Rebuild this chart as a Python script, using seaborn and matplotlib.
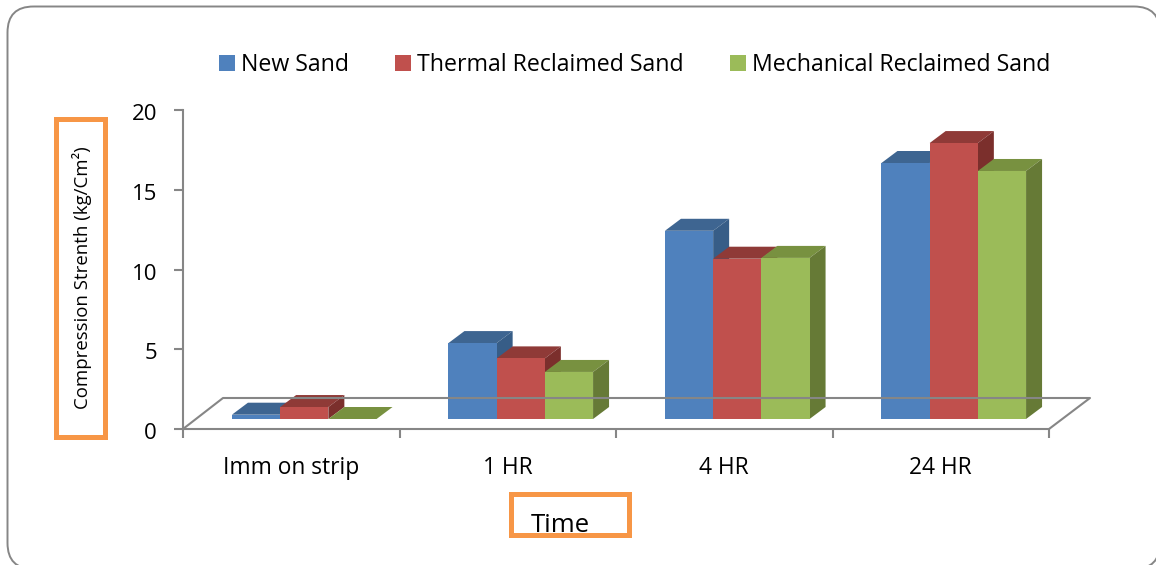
import matplotlib
matplotlib.use("Agg")
import matplotlib.pyplot as plt
import pandas as pd
import seaborn as sns
from matplotlib.patches import FancyBboxPatch, Polygon, Rectangle
from matplotlib.lines import Line2D
from matplotlib.transforms import Affine2D, IdentityTransform

categories = ["Imm on strip", "1 HR", "4 HR", "24 HR"]
new_sand = [0.27, 4.76, 11.8, 16.05]
thermal = [0.75, 3.8, 10.05, 17.3]
mechanical = [0.0, 2.95, 10.1, 15.55]
series_names = ["New Sand", "Thermal Reclaimed Sand", "Mechanical Reclaimed Sand"]
front_colors = ["#4F81BD", "#C0504D", "#9BBB59"]
top_colors = ["#3E6591", "#8F3A37", "#789140"]
side_colors = ["#375D87", "#7B2F2C", "#667A36"]

W, H = 1156, 565
GRAY = "#868686"
ORANGE = "#F79646"
FONT = ["Open Sans", "DejaVu Sans"]

sns.set_theme(style="white")
plt.rcParams["font.family"] = FONT

df = pd.DataFrame({
    "Time": categories * 3,
    "Series": sum([[n] * 4 for n in series_names], []),
    "Value": new_sand + thermal + mechanical,
})

fig = plt.figure(figsize=(W / 100, H / 100), dpi=100, facecolor="white")
ax = fig.add_axes([183 / W, 1 - 429 / H, 866 / W, 319 / H])
ax.patch.set_alpha(0)


def fx(x):
    return x / W


def fy(y):
    return 1 - y / H


sns.barplot(data=df, x="Time", y="Value", hue="Series", order=categories,
            hue_order=series_names, palette=front_colors, width=0.668, gap=0,
            saturation=1, ax=ax, errorbar=None, linewidth=0)
ax.set_xlim(-0.5, 3.5)
ax.set_ylim(0, 20)
ax.set_xlabel("")
ax.set_ylabel("")

# axes and ticks
for s in ["top", "right"]:
    ax.spines[s].set_visible(False)
for s in ["left", "bottom"]:
    ax.spines[s].set_color(GRAY)
    ax.spines[s].set_linewidth(1.5)
ax.set_yticks([0, 5, 10, 15, 20])
ax.tick_params(axis="y", length=6.5, width=1.5, color=GRAY, labelsize=16,
               labelcolor="black", pad=12.2, left=True)
ax.set_xticks([-0.5, 0.5, 1.5, 2.5, 3.5])
ax.set_xticklabels([])
ax.set_xticks(range(4), categories, minor=True)
ax.tick_params(axis="x", which="major", length=6.5, width=1.5, color=GRAY, bottom=True)
ax.tick_params(axis="x", which="minor", length=0, labelsize=16.4, labelcolor="black", pad=19.3)
for lab in ax.get_yticklabels():
    lab.set_transform(lab.get_transform() + Affine2D().translate(0, -2))

# floor outline
floor = [[(183, 429), (223, 398), (1090, 398), (1049, 429)]]
for pts in floor:
    fig.add_artist(Line2D([fx(p[0]) for p in pts], [fy(p[1]) for p in pts],
                          color=GRAY, lw=1.5, zorder=0.5))

# pseudo-3D faces computed from each bar
shift_x, shift_y = 13, 10
depth_x, depth_y = 16, 12
for i, container in enumerate(ax.containers):
    for bar in container:
        x0, x1 = bar.get_x(), bar.get_x() + bar.get_width()
        (px0, py0) = ax.transData.transform((x0, 0))
        (px1, py1) = ax.transData.transform((x1, bar.get_height()))
        px0 += shift_x
        px1 += shift_x
        py0 += shift_y
        py1 += shift_y
        z = 3 + i
        bar.set_transform(bar.get_data_transform() + Affine2D().translate(shift_x, shift_y))
        bar.set_clip_on(False)
        bar.set_zorder(z + 0.5)
        top = Polygon([(px0, py1), (px1, py1), (px1 + depth_x, py1 + depth_y), (px0 + depth_x, py1 + depth_y)],
                      closed=True, transform=IdentityTransform(), facecolor=top_colors[i],
                      edgecolor="none", zorder=z, clip_on=False)
        side = Polygon([(px1, py0), (px1 + depth_x, py0 + depth_y), (px1 + depth_x, py1 + depth_y), (px1, py1)],
                       closed=True, transform=IdentityTransform(), facecolor=side_colors[i],
                       edgecolor="none", zorder=z, clip_on=False)
        ax.add_patch(top)
        ax.add_patch(side)

# legend
leg = ax.get_legend()
handles = leg.legend_handles
leg.remove()
ax.legend(handles, series_names, ncol=3, frameon=False, loc="center left",
          bbox_to_anchor=(fx(219), fy(65)), bbox_transform=fig.transFigure,
          fontsize=16.7, handlelength=0.7, handleheight=0.7, handletextpad=0.26,
          columnspacing=1.98, labelcolor="black", borderpad=0, borderaxespad=0)

# outer rounded frame: the curve is flattened so that clipping at the canvas edge keeps its shape
flip = Affine2D().scale(1, -1).translate(0, H) + IdentityTransform()
outline = FancyBboxPatch((7.5, 6.5), 1152.5, 562.5, boxstyle="round,pad=0,rounding_size=26")
flat = outline.get_path().to_polygons(closed_only=True)[0]
fig.add_artist(Polygon(flat, closed=True, transform=flip, facecolor="none",
                       edgecolor=GRAY, lw=1.4, zorder=0.2))

# orange annotation boxes and their labels
for x, y, w, h in [(56, 118.5, 48.5, 318), (510.5, 493.5, 118, 41)]:
    fig.add_artist(Rectangle((fx(x), fy(y + h)), w / W, h / H, transform=fig.transFigure,
                             facecolor="white", edgecolor=ORANGE, lw=3.6, zorder=1))
fig.text(fx(82), fy(278), "Compression Strenth (kg/Cm²)", rotation=90, ha="center", va="center",
         fontsize=13.4, color="black", zorder=5)
fig.text(fx(560), fy(525), "Time", ha="center", va="center", fontsize=18.5, color="black", zorder=5)

fig.savefig("out.png", dpi=100)
